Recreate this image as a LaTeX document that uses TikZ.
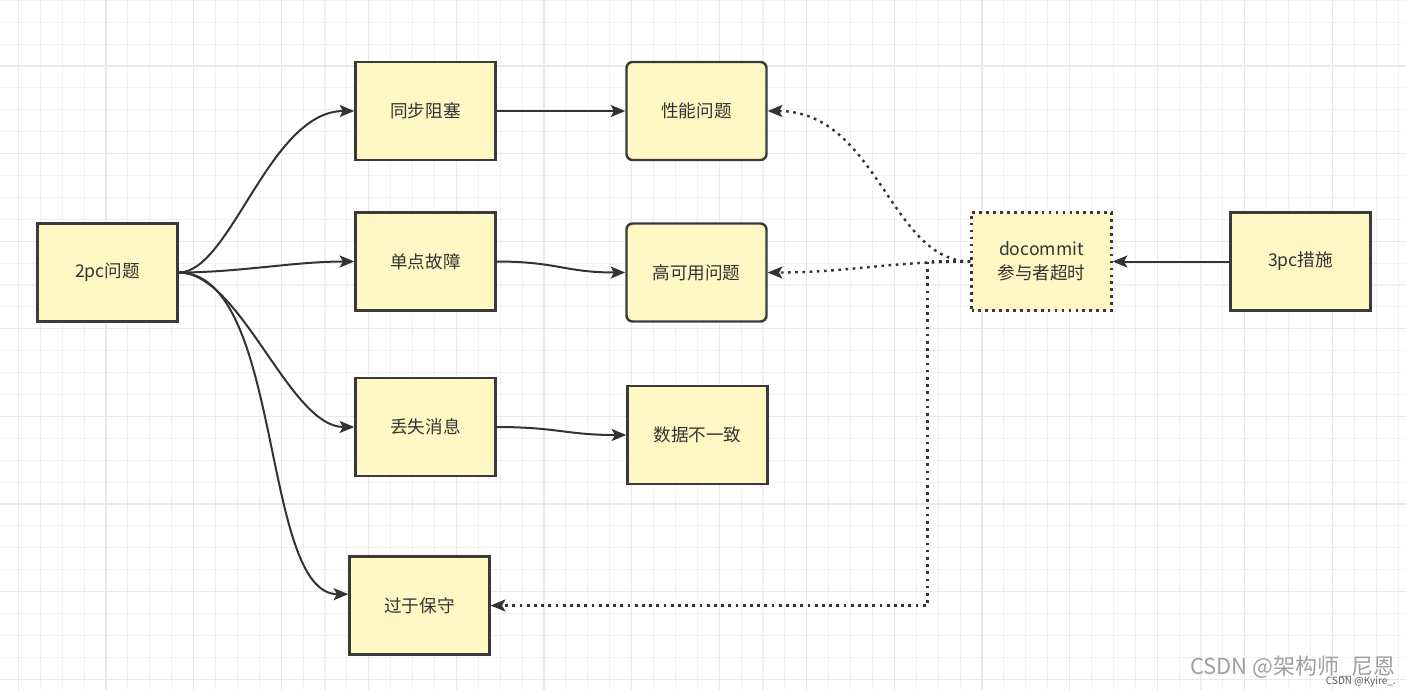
\documentclass[tikz,border=0pt]{standalone}
\usepackage{fontspec}
\setmainfont{Noto Sans CJK SC}
\usetikzlibrary{arrows.meta}
\definecolor{boxfill}{HTML}{FFF8C4}
\definecolor{boxline}{HTML}{3A3A3A}
\definecolor{edge}{HTML}{333333}
\definecolor{gridminor}{HTML}{F1F1F1}
\definecolor{gridmajor}{HTML}{E9E9E9}
\definecolor{wm}{HTML}{A0A0A0}
\tikzset{
  box/.style={draw=boxline, fill=boxfill, line width=1.8pt, minimum width=105pt, minimum height=73.5pt, inner sep=0pt, font=\fontsize{13.2pt}{18pt}\selectfont, text=edge, align=center},
  rbox/.style={box, rounded corners=4.5pt},
  dbox/.style={box, dash pattern=on 2pt off 3.2pt},
  link/.style={draw=edge, line width=1.5pt, -{Stealth[length=11pt,width=9pt,inset=2.5pt]}},
  dlink/.style={link, line width=1.8pt, dash pattern=on 2pt off 3.4pt},
}
\begin{document}
\begin{tikzpicture}[x=0.75pt,y=-0.75pt]
\useasboundingbox (0,0) rectangle (1406,690);
\fill[white] (0,0) rectangle (1406,690);
% grid
\foreach \i in {0,...,63} {\draw[gridminor, line width=0.8pt] ({18.4+21.9*\i},0) -- ({18.4+21.9*\i},690);}
\foreach \j in {0,...,31} {\draw[gridminor, line width=0.8pt] (0,{0.3+21.9*\j}) -- (1406,{0.3+21.9*\j});}
\foreach \i in {0,...,15} {\draw[gridmajor, line width=0.8pt] ({18.4+87.6*\i},0) -- ({18.4+87.6*\i},690);}
\foreach \j in {0,...,7} {\draw[gridmajor, line width=0.8pt] (0,{66+87.6*\j}) -- (1406,{66+87.6*\j});}
% nodes
\node[box]  (a)  at (107.5,272.5) {2pc问题};
\node[box]  (b1) at (425.5,111)   {同步阻塞};
\node[rbox] (c1) at (696.5,111)   {性能问题};
\node[box]  (b2) at (425.5,261.5) {单点故障};
\node[rbox] (c2) at (696.5,272.5) {高可用问题};
\node[box]  (b3) at (425.5,427)   {丢失消息};
\node[box]  (c3) at (697.5,435)   {数据不一致};
\node[box]  (b4) at (419.5,605.5) {过于保守};
\node[dbox] (d)  at (1041.5,261.5) {docommit\\参与者超时};
\node[box]  (e)  at (1300.5,261.5) {3pc措施};
% solid links
\draw[link] (a.east) .. controls +(52,0) and +(-85,0) .. (b1.west);
\draw[link] (a.east) .. controls +(60,0) and +(-60,0) .. (b2.west);
\draw[link] (a.east) .. controls +(62,0) and +(-65,0) .. (b3.west);
\draw[link] (a.east) .. controls +(105,0) and +(-88,0) .. ([yshift=8.5pt]b4.west);
\draw[link] (b1.east) -- (c1.west);
\draw[link] (b2.east) .. controls +(60,0) and +(-60,0) .. (c2.west);
\draw[link] (b3.east) .. controls +(60,0) and +(-60,0) .. (c3.west);
\draw[link] (e.west) -- (d.east);
% dotted links
\draw[dlink] (d.west) .. controls +(-80,0) and +(110,0) .. (c1.east);
\draw[dlink] (d.west) .. controls +(-80,0) and +(80,0) .. (c2.east);
\draw[dlink] (d.west) -- ++(-43,0) |- (b4.east);
% watermark
\node[anchor=base east, text=wm, font=\fontsize{16.5pt}{18pt}\selectfont, inner sep=0pt] (wm1) at (1396,674) {CSDN @架构师\_尼恩};
\node[anchor=base east, text=edge!80, font=\fontsize{7.5pt}{8pt}\selectfont, inner sep=0pt] (wm2) at (1396,684) {CSDN @Kyire\_.};
\end{tikzpicture}
\end{document}
